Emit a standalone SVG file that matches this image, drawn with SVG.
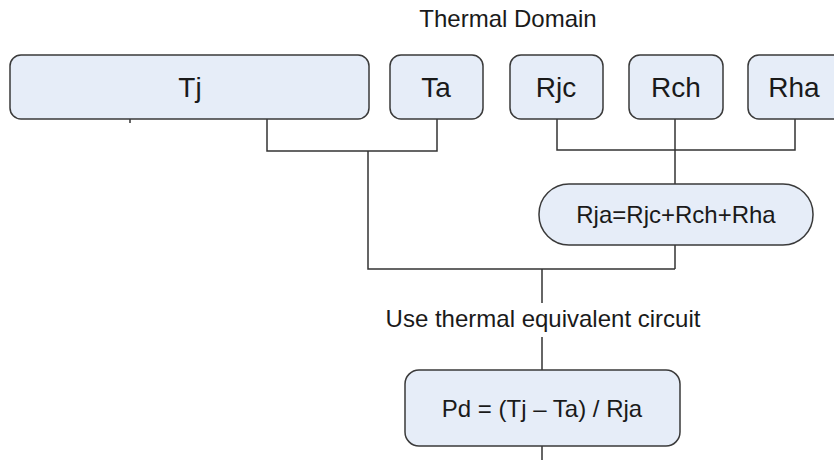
<svg xmlns="http://www.w3.org/2000/svg" width="834" height="460" viewBox="0 0 834 460">
<style>
.box{fill:#e6edf8;stroke:#3a3a3a;stroke-width:1.5}
.t{font-family:"Liberation Sans",Arial,sans-serif;font-size:24px;fill:#1a1a1a;text-anchor:middle}
.big{font-size:28px}
.c{fill:none;stroke:#333;stroke-width:1.5}
</style>
<rect width="834" height="460" fill="#fff"/>
<text class="t" x="508" y="27">Thermal Domain</text>
<g id="connectors">
<path class="c" d="M130 119V123"/>
<path class="c" d="M267 119V151H437V119"/>
<path class="c" d="M368 151V269H675"/>
<path class="c" d="M557 119V150H795V119"/>
<path class="c" d="M675 119V184"/>
<path class="c" d="M675 245V269"/>
<path class="c" d="M542 269V303"/>
<path class="c" d="M542 337V370"/>
<path class="c" d="M542 446V460"/>
</g>
<g id="Tj"><rect class="box" x="10" y="55" width="359" height="64" rx="11"/><text class="t big" x="190" y="97">Tj</text></g>
<g id="Ta"><rect class="box" x="390" y="55" width="93" height="64" rx="11"/><text class="t big" x="436" y="97">Ta</text></g>
<g id="Rjc"><rect class="box" x="510" y="55" width="93" height="64" rx="11"/><text class="t big" x="556" y="97">Rjc</text></g>
<g id="Rch"><rect class="box" x="629" y="55" width="94" height="64" rx="11"/><text class="t big" x="676" y="97">Rch</text></g>
<g id="Rha"><rect class="box" x="748" y="55" width="96" height="64" rx="11"/><text class="t big" x="794" y="97">Rha</text></g>
<g id="Rja"><rect class="box" x="539" y="184" width="274" height="61" rx="30"/><text class="t" x="676" y="223">Rja=Rjc+Rch+Rha</text></g>
<text class="t" x="543" y="327">Use thermal equivalent circuit</text>
<g id="Pd"><rect class="box" x="405" y="370" width="275" height="76" rx="14"/><text class="t" x="542" y="417">Pd = (Tj – Ta) / Rja</text></g>
</svg>
